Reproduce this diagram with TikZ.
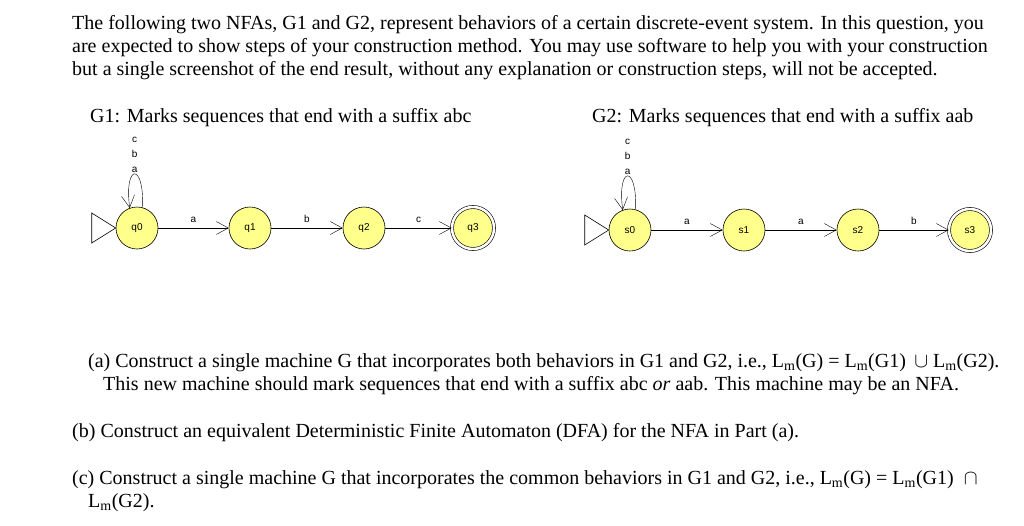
\documentclass[tikz,border=0pt]{standalone}
\usepackage{fontspec}
\setmainfont{Liberation Serif}
\newfontfamily\smallsans{Liberation Sans}
\usetikzlibrary{arrows.meta}
\definecolor{stfill}{HTML}{FFFF8C}
\tikzset{
 st/.style={circle,draw,fill=stfill,minimum size=42pt,inner sep=0pt,semithick,font=\smallsans\fontsize{10}{11}\selectfont},
 acc/.style={st,double,double distance=2.5pt},
 tr/.style={-{Straight Barb[length=12pt,width=13pt]},thin},
 lab/.style={font=\smallsans\fontsize{10}{12.5}\selectfont,inner sep=1pt},
 looplab/.style={font=\smallsans\fontsize{10}{15}\selectfont,inner sep=1pt},
 txt/.style={anchor=base west,inner sep=0pt,font=\fontsize{20}{23}\selectfont},
 init/.style={draw,semithick}
}
\begin{document}
\begin{tikzpicture}[x=1pt,y=-1pt]
\useasboundingbox (0,0) rectangle (1024,525);
\node[txt] (l1) at (72,29) {The following two NFAs, G1 and G2, represent behaviors of a certain discrete-event system. In this question, you};
\node[txt] (l2) at (72,52) {are expected to show steps of your construction method. You may use software to help you with your construction};
\node[txt] (l3) at (72,75) {but a single screenshot of the end result, without any explanation or construction steps, will not be accepted.};
\node[txt] (h1) at (90,122) {G1: Marks sequences that end with a suffix abc};
\node[txt] (h2) at (592,122) {G2: Marks sequences that end with a suffix aab};
% G1
\node[st] (q0) at (137,228) {q0};
\node[st] (q1) at (250,228) {q1};
\node[st] (q2) at (364,228) {q2};
\node[acc] (q3) at (473,228) {q3};
\draw[init] (q0.west) -- ++(-24,-15) -- ++(0,30) -- cycle;
\draw[tr] (q0) -- node[lab,above=4pt]{a} (q1);
\draw[tr] (q1) -- node[lab,above=4pt]{b} (q2);
\draw[tr] (q2) -- node[lab,above=4pt]{c} (q3);
\draw[tr] (q0.75) .. controls +(2,-45) and +(-6,-45) .. node[looplab,above,align=center]{c\\b\\a} (q0.110);
% G2
\node[st] (s0) at (630,230) {s0};
\node[st] (s1) at (744,230) {s1};
\node[st] (s2) at (858,230) {s2};
\node[acc] (s3) at (970,230) {s3};
\draw[init] (s0.west) -- ++(-24,-15) -- ++(0,30) -- cycle;
\draw[tr] (s0) -- node[lab,above=4pt]{a} (s1);
\draw[tr] (s1) -- node[lab,above=4pt]{a} (s2);
\draw[tr] (s2) -- node[lab,above=4pt]{b} (s3);
\draw[tr] (s0.75) .. controls +(2,-45) and +(-6,-45) .. node[looplab,above,align=center]{c\\b\\a} (s0.110);
% questions
\node[txt] (qa) at (88,367) {(a) Construct a single machine G that incorporates both behaviors in G1 and G2, i.e., L\textsubscript{m}(G) = L\textsubscript{m}(G1) \,$\cup$ L\textsubscript{m}(G2).};
\node[txt] (qa2) at (103,390) {This new machine should mark sequences that end with a suffix abc \textit{or} aab. This machine may be an NFA.};
\node[txt] (qb) at (72,437) {(b) Construct an equivalent Deterministic Finite Automaton (DFA) for the NFA in Part (a).};
\node[txt] (qc) at (72,484) {(c) Construct a single machine G that incorporates the common behaviors in G1 and G2, i.e., L\textsubscript{m}(G) = L\textsubscript{m}(G1) \ $\cap$};
\node[txt] (qc2) at (88,507) {L\textsubscript{m}(G2).};
\end{tikzpicture}
\end{document}
